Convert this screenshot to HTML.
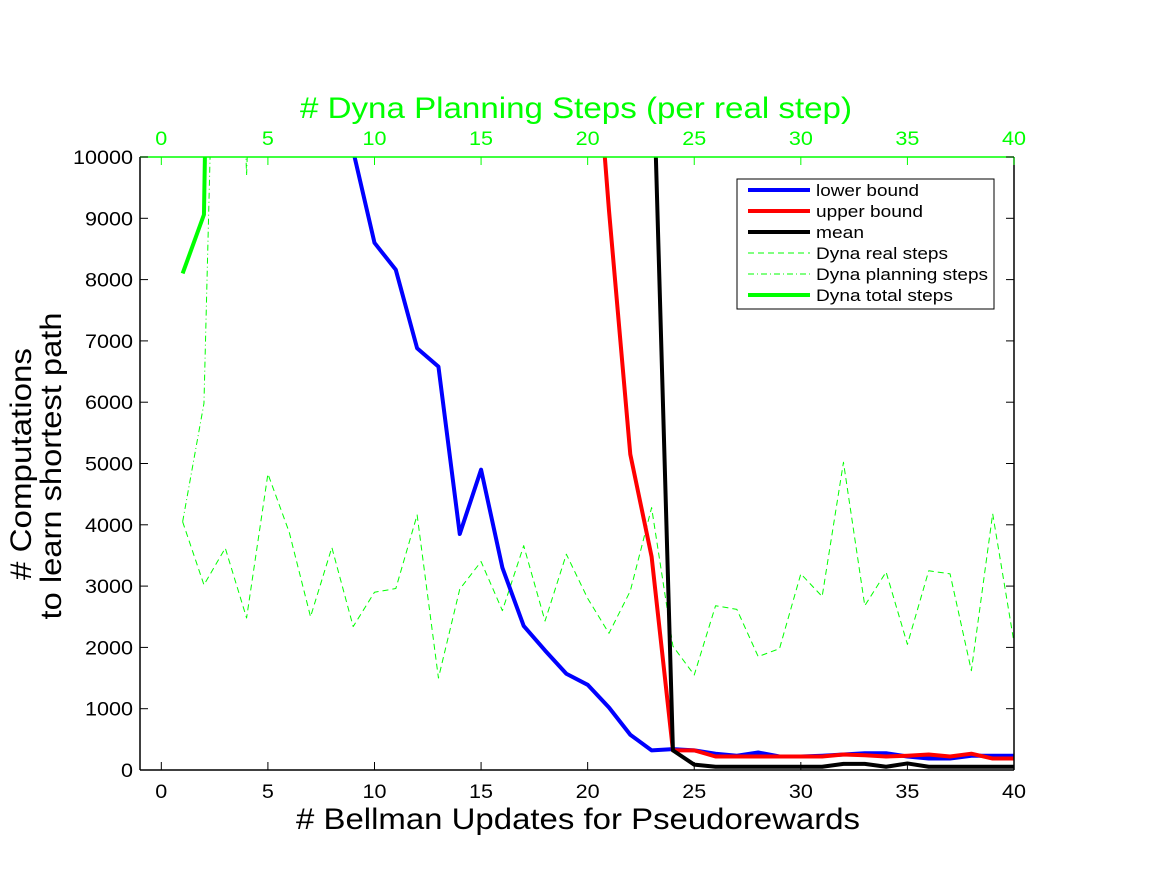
<!DOCTYPE html>
<html><head><meta charset="utf-8"><style>
body{margin:0;background:#fff;}
svg{display:block;font-family:"Liberation Sans",Arial,sans-serif;}
</style></head><body>
<svg id="chart" width="1167" height="875" viewBox="0 0 1167 875">
<defs><clipPath id="plotclip"><rect x="140" y="157" width="874" height="613"/></clipPath></defs>
<rect x="0" y="0" width="1167" height="875" fill="#fff"/>
<g id="lines" clip-path="url(#plotclip)"></g>
<g id="axes"></g>
<text x="300" y="118" font-size="30" textLength="552" lengthAdjust="spacingAndGlyphs" fill="#00ff00"># Dyna Planning Steps (per real step)</text>
<text x="296" y="829" font-size="30" textLength="564" lengthAdjust="spacingAndGlyphs" fill="#000"># Bellman Updates for Pseudorewards</text>
<text transform="translate(31,464) rotate(-90)" text-anchor="middle" font-size="30" textLength="232" lengthAdjust="spacingAndGlyphs" fill="#000"># Computations</text>
<text transform="translate(61,466) rotate(-90)" text-anchor="middle" font-size="30" textLength="307" lengthAdjust="spacingAndGlyphs" fill="#000">to learn shortest path</text>
<g id="legend">
<rect x="737" y="179" width="257" height="130" fill="#fff" stroke="#000" stroke-width="1"/>
</g>
</svg>
<script>
const xs = [1,2,3,4,5,6,7,8,9,10,11,12,13,14,15,16,17,18,19,20,21,22,23,24,25,26,27,28,29,30,31,32,33,34,35,36,37,38,39,40];
const lowerBound = [40000,38000,35000,30000,25000,20000,16000,12500,10100,8600,8160,6880,6580,3850,4900,3300,2350,1950,1570,1390,1020,575,320,340,320,266,233,286,220,220,233,253,273,273,220,187,187,233,233,233];
const upperBound = [40000,40000,40000,40000,40000,40000,40000,40000,40000,40000,40000,40000,40000,40000,40000,40000,40000,30000,22000,13600,9130,5150,3480,320,320,220,220,220,220,220,220,253,240,220,233,253,220,266,187,187];
const meanVals = [40000,40000,40000,40000,40000,40000,40000,40000,40000,40000,40000,40000,40000,40000,40000,40000,40000,40000,40000,40000,40000,30000,12420,320,87,53,53,53,53,53,53,100,100,53,107,53,53,53,53,53];
const dynaReal = [4050,3020,3620,2480,4830,3880,2500,3630,2340,2900,2960,4160,1500,2950,3400,2600,3660,2430,3520,2800,2230,2920,4280,2020,1550,2680,2620,1850,1980,3200,2830,5020,2680,3230,2050,3250,3200,1620,4180,2080];
const dynaPlanning = [4050,5980,20000,9700,20000,20000,20000,20000,20000,20000,20000,20000,20000,20000,20000,20000,20000,20000,20000,20000,20000,20000,20000,20000,20000,20000,20000,20000,20000,20000,20000,20000,20000,20000,20000,20000,20000,20000,20000,20000];
const dynaTotal = [8100,9060,30000,30000,30000,30000,30000,30000,30000,30000,30000,30000,30000,30000,30000,30000,30000,30000,30000,30000,30000,30000,30000,30000,30000,30000,30000,30000,30000,30000,30000,30000,30000,30000,30000,30000,30000,30000,30000,30000];
const xTicks = [0,5,10,15,20,25,30,35,40];
const yTicks = [0,1000,2000,3000,4000,5000,6000,7000,8000,9000,10000];
const legendLabels = ["lower bound","upper bound","mean","Dyna real steps","Dyna planning steps","Dyna total steps"];

const NS="http://www.w3.org/2000/svg";
const X0=140,X1=1014,Y0=770,Y1=157, XMIN=-1, XMAX=40, YMAX=10000;
function sx(v){return X0+(v-XMIN)/(XMAX-XMIN)*(X1-X0);}
function sy(v){return Y0-v/YMAX*(Y0-Y1);}
function mk(tag,attrs,parent){const e=document.createElementNS(NS,tag);for(const k in attrs)e.setAttribute(k,attrs[k]);parent.appendChild(e);return e;}
const lines=document.getElementById('lines'), axes=document.getElementById('axes'), legend=document.getElementById('legend');
const series=[
 {d:dynaReal,c:'#00ff00',w:1,dash:'6,4',n:'dyna-real-steps-line'},
 {d:dynaPlanning,c:'#00ff00',w:1,dash:'6,3,1,3',n:'dyna-planning-steps-line'},
 {d:dynaTotal,c:'#00ff00',w:4,dash:'',n:'dyna-total-steps-line'},
 {d:lowerBound,c:'#0000ff',w:4,dash:'',n:'lower-bound-line'},
 {d:upperBound,c:'#ff0000',w:4,dash:'',n:'upper-bound-line'},
 {d:meanVals,c:'#000000',w:4,dash:'',n:'mean-line'}
];
series.forEach(s=>{
 const p=mk('polyline',{points:xs.map((x,i)=>sx(x)+','+sy(s.d[i])).join(' '),fill:'none',stroke:s.c,'stroke-width':s.w,'stroke-linejoin':'round'},lines);
 if(s.dash)p.setAttribute('stroke-dasharray',s.dash);
 
 
});
const lb=mk('line',{x1:X0,y1:Y1,x2:X0,y2:Y0,stroke:'#000','stroke-width':1.5},axes);


const bb=mk('line',{x1:X0,y1:Y0,x2:X1,y2:Y0,stroke:'#000','stroke-width':1.5},axes);


const rb=mk('line',{x1:X1,y1:Y1,x2:X1,y2:Y0,stroke:'#000','stroke-width':1.5},axes);


const tb=mk('line',{x1:X0,y1:Y1,x2:X1,y2:Y1,stroke:'#00ff00','stroke-width':1.5},axes);


xTicks.forEach(t=>{
 const x=sx(t);
 const w=String(t).length*12;
 mk('line',{x1:x,y1:Y0,x2:x,y2:Y0-8,stroke:'#000','stroke-width':1},axes);
 mk('line',{x1:x,y1:Y1,x2:x,y2:Y1+8,stroke:'#00ff00','stroke-width':1},axes);
 const l=mk('text',{x:x-w/2,y:798,'font-size':19,textLength:w,lengthAdjust:'spacingAndGlyphs',fill:'#000'},axes);
 l.textContent=t;
 
 
 const l2=mk('text',{x:x-w/2,y:145,'font-size':19,textLength:w,lengthAdjust:'spacingAndGlyphs',fill:'#00ff00'},axes);
 l2.textContent=t;
 
 
});
yTicks.forEach(t=>{
 const y=sy(t);
 const w=String(t).length*12;
 mk('line',{x1:X0,y1:y,x2:X0+8,y2:y,stroke:'#000','stroke-width':1},axes);
 mk('line',{x1:X1,y1:y,x2:X1-8,y2:y,stroke:'#000','stroke-width':1},axes);
 const l=mk('text',{x:133-w,y:y+7,'font-size':19,textLength:w,lengthAdjust:'spacingAndGlyphs',fill:'#000'},axes);
 l.textContent=t;
 
 
});
const legOrder=[3,4,5,0,1,2];
const legWidths=[103,107,48,132,172,137];
legendLabels.forEach((lab,i)=>{
 const s=series[legOrder[i]];
 const y=190+i*21;
 const ln=mk('line',{x1:748,y1:y,x2:810,y2:y,stroke:s.c,'stroke-width':s.w},legend);
 if(s.dash)ln.setAttribute('stroke-dasharray',s.dash);
 
 
 const tx=mk('text',{x:816,y:y+6,'font-size':17,textLength:legWidths[i],lengthAdjust:'spacingAndGlyphs',fill:'#000'},legend);
 tx.textContent=lab;
 
 
});
</script>
</body></html>
